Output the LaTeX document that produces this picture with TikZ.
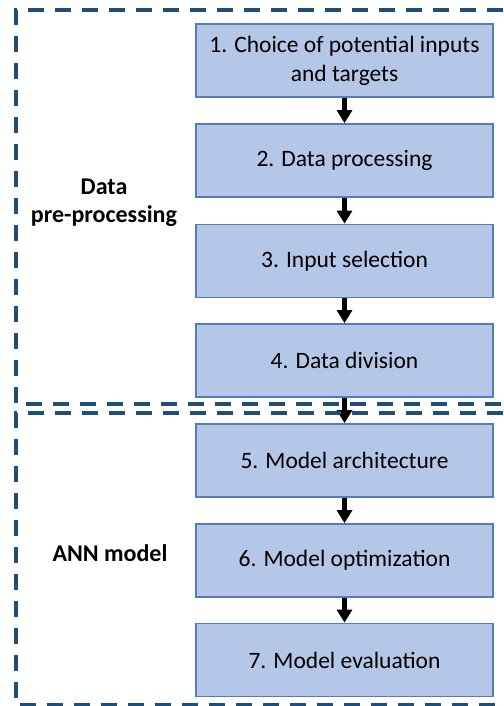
\documentclass[tikz,border=0pt]{standalone}
\usepackage{fontspec}
\setmainfont{Carlito}
\usetikzlibrary{arrows.meta,positioning}
\definecolor{stepfill}{RGB}{180,199,231}
\definecolor{stepline}{RGB}{84,122,192}
\definecolor{groupline}{RGB}{31,78,121}
\tikzset{
  stepbox/.style={draw=stepline, line width=1.2pt, fill=stepfill,
    minimum width=297pt, minimum height=73pt, inner sep=0pt,
    align=center, font=\fontsize{23.5}{29}\selectfont},
  flow/.style={line width=4.5pt, -{Triangle[width=15pt,length=13pt]}, shorten >=0.3pt},
  groupframe/.style={draw=groupline, line width=3.5pt, dash pattern=on 16pt off 11pt},
  grouplabel/.style={font=\bfseries\fontsize{24}{28}\selectfont, align=center}
}
\begin{document}
\begin{tikzpicture}[x=1pt,y=-1pt]
\useasboundingbox (0,0) rectangle (503,706);

% processing steps
\node[stepbox] (s1) at (344.5,60.5)  {1. Choice of potential inputs\\and targets};
\node[stepbox] (s2) at (344.5,160.5) {2. Data processing};
\node[stepbox] (s3) at (344.5,261)   {3. Input selection};
\node[stepbox] (s4) at (344.5,360.5) {4. Data division};
\node[stepbox] (s5) at (344.5,460.5) {5. Model architecture};
\node[stepbox] (s6) at (344.5,560.5) {6. Model optimization};
\node[stepbox] (s7) at (344.5,660)   {7. Model evaluation};

% arrows between steps
\foreach \a/\b in {s1/s2,s2/s3,s3/s4,s4/s5,s5/s6,s6/s7}
  \draw[flow] (\a.south) -- (\b.north);

% group frames
\coordinate (g1a) at (16,10);
\coordinate (g1b) at (530,404);
\coordinate (g2a) at (16,413);
\coordinate (g2b) at (530,705);
\draw[groupframe] (g1b |- g1a) -- (g1a) -- (g1a |- g1b) -- (g1b);
\draw[groupframe] (g2b |- g2a) -- (g2a) -- (g2a |- g2b) -- (g2b);

% group labels
\node[grouplabel] (l1) at (104,203) {Data\\pre-processing};
\node[grouplabel] (l2) at (110,553) {ANN model};
\end{tikzpicture}
\end{document}
